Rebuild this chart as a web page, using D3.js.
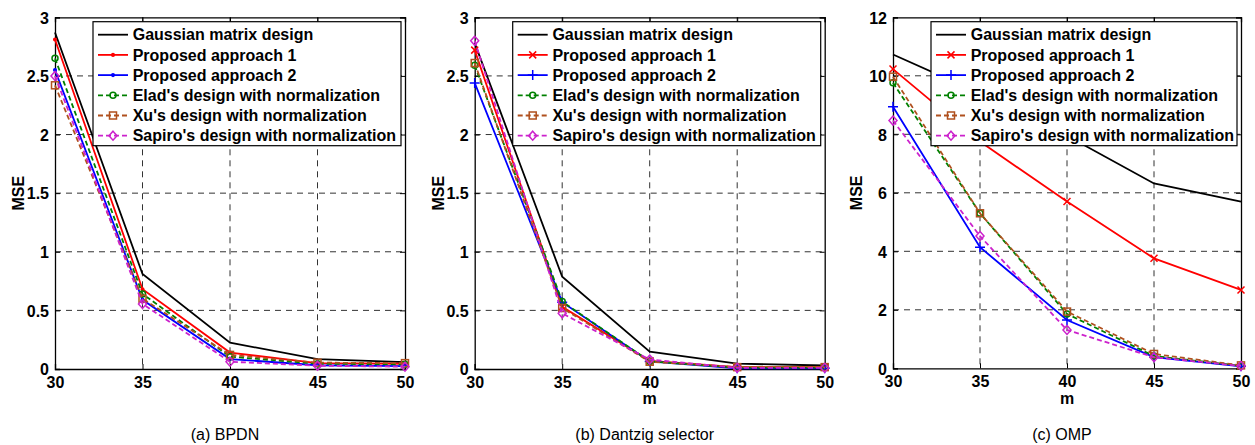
<!DOCTYPE html>
<html><head><meta charset="utf-8">
<script src="https://cdn.jsdelivr.net/npm/d3@7"></script>
<style>
body{margin:0;background:#fff;}
svg text{font-family:"Liberation Sans",Arial,Helvetica,sans-serif;}
</style></head>
<body><svg id="c" width="1255" height="445"></svg>
<script>
const mValues = [30, 35, 40, 45, 50];
const seriesNames = ["Gaussian matrix design","Proposed approach 1","Proposed approach 2",
  "Elad's design with normalization","Xu's design with normalization","Sapiro's design with normalization"];
const seriesColors = ["#000000","#ff0000","#0000ff","#008000","#b0501e","#cc22cc"];
const seriesDashed = [false,false,false,true,true,true];
const captions = ["(a) BPDN","(b) Dantzig selector","(c) OMP"];
const yTicksSmall = [0,0.5,1,1.5,2,2.5,3];
const yTicksOmp = [0,2,4,6,8,10,12];
// values per series: Gaussian, Proposed 1, Proposed 2, Elad, Xu, Sapiro
const bpdnValues = [
  [2.87, 0.81, 0.224, 0.085, 0.058],
  [2.81, 0.68, 0.14, 0.05, 0.045],
  [2.55, 0.59, 0.085, 0.032, 0.025],
  [2.65, 0.64, 0.105, 0.045, 0.04],
  [2.42, 0.60, 0.12, 0.054, 0.05],
  [2.50, 0.555, 0.062, 0.028, 0.02]
];
const dantzigValues = [
  [2.78, 0.787, 0.148, 0.045, 0.03],
  [2.72, 0.53, 0.07, 0.015, 0.015],
  [2.44, 0.57, 0.065, 0.006, 0.006],
  [2.59, 0.575, 0.065, 0.012, 0.012],
  [2.61, 0.52, 0.062, 0.016, 0.016],
  [2.80, 0.475, 0.08, 0.01, 0.01]
];
const ompValues = [
  [10.73, 9.4, 7.95, 6.32, 5.7],
  [10.23, 7.75, 5.7, 3.76, 2.68],
  [8.94, 4.14, 1.65, 0.38, 0.07],
  [9.76, 5.3, 1.86, 0.42, 0.08],
  [9.97, 5.3, 1.94, 0.49, 0.1],
  [8.47, 4.52, 1.31, 0.38, 0.08]
];

const svg = d3.select("#c");
const panels = [
  {x0:55, x1:405, y0:17.3, y1:369, yMax:3, ticks:yTicksSmall, data:bpdnValues, cap:captions[0], mk:["none","dot","dot","circle","square","diamond"]},
  {x0:474.7, x1:824.7, y0:17.3, y1:369, yMax:3, ticks:yTicksSmall, data:dantzigValues, cap:captions[1], mk:["none","x","plus","circle","square","diamond"]},
  {x0:893, x1:1241, y0:17.3, y1:368.3, yMax:12, ticks:yTicksOmp, data:ompValues, cap:captions[2], mk:["none","x","plus","circle","square","diamond"]}
];
const FS = "16px";

function drawMarker(g, type, cx, cy, color){
  if(type==="none") return;
  const s = g.append("g").attr("transform",`translate(${cx},${cy})`)
    .attr("stroke",color).attr("stroke-width",1.5).attr("fill","none");
  if(type==="dot") s.append("circle").attr("r",1.3).attr("fill",color);
  else if(type==="circle") s.append("circle").attr("r",3);
  else if(type==="square") s.append("rect").attr("x",-3.5).attr("y",-3.5).attr("width",7).attr("height",7);
  else if(type==="diamond") s.append("path").attr("d","M0,-4.5L4,0L0,4.5L-4,0Z");
  else if(type==="x") s.append("path").attr("d","M-3.5,-3.5L3.5,3.5M-3.5,3.5L3.5,-3.5");
  else if(type==="plus") s.append("path").attr("d","M-5,0L5,0M0,-5L0,5");
}

panels.forEach(p=>{
  const g = svg.append("g");
  const x = d3.scaleLinear().domain([30,50]).range([p.x0,p.x1]);
  const y = d3.scaleLinear().domain([0,p.yMax]).range([p.y1,p.y0]);
  // grid
  g.append("g").selectAll("line").data(p.ticks.filter(t=>t>0 && t<p.yMax)).join("line")
    .attr("x1",p.x0).attr("x2",p.x1).attr("y1",d=>y(d)).attr("y2",d=>y(d))
    .attr("stroke","#333").attr("stroke-dasharray","6,5").attr("stroke-width",1);
  g.append("g").selectAll("line").data(mValues.filter(t=>t>30 && t<50)).join("line")
    .attr("x1",d=>x(d)).attr("x2",d=>x(d)).attr("y1",p.y0).attr("y2",p.y1)
    .attr("stroke","#333").attr("stroke-dasharray","6,5").attr("stroke-width",1);
  // axes
  const ax = g.append("g").attr("transform",`translate(0,${p.y1})`)
    .call(d3.axisBottom(x).tickValues(mValues).tickSize(-5).tickPadding(7));
  const ay = g.append("g").attr("transform",`translate(${p.x0},0)`)
    .call(d3.axisLeft(y).tickValues(p.ticks).tickSize(-5).tickPadding(6).tickFormat(d=>String(d)));
  g.append("g").attr("transform",`translate(0,${p.y0})`)
    .call(d3.axisTop(x).tickValues(mValues).tickSize(-5).tickFormat(""));
  g.append("g").attr("transform",`translate(${p.x1},0)`)
    .call(d3.axisRight(y).tickValues(p.ticks).tickSize(-5).tickFormat(""));
  g.selectAll(".domain").attr("stroke","#000").attr("stroke-width",1.3);
  g.selectAll(".tick line").attr("stroke","#000");
  [ax,ay].forEach(a=>a.selectAll("text").attr("font-size",FS).attr("font-weight","bold").attr("fill","#000")
     .attr("font-family",'"Liberation Sans",Arial,sans-serif'));
  ax.selectAll("text").attr("dy","0.72em");
  ay.selectAll("text").attr("dy","0.36em");
  // series
  const line = d3.line().x((d,i)=>x(mValues[i])).y(d=>y(d));
  p.data.forEach((vals,si)=>{
    const col = seriesColors[si];
    g.append("path").datum(vals).attr("d",line).attr("fill","none").attr("stroke",col)
      .attr("stroke-width",1.8).attr("stroke-dasharray",seriesDashed[si]?"5,3":null);
    vals.forEach((v,i)=>drawMarker(g,p.mk[si],x(mValues[i]),y(v),col));
  });
  // legend
  const lx = p.x0+38, ly = 21.7, lw = p.x1-4-lx, lh = 124;
  const lg = g.append("g");
  lg.append("rect").attr("x",lx).attr("y",ly).attr("width",lw).attr("height",lh)
    .attr("fill","#fff").attr("stroke","#000").attr("stroke-width",1.2);
  seriesNames.forEach((n,si)=>{
    const yy = ly+13+si*20.2;
    lg.append("line").attr("x1",lx+5).attr("x2",lx+35).attr("y1",yy).attr("y2",yy)
      .attr("stroke",seriesColors[si]).attr("stroke-width",1.8).attr("stroke-dasharray",seriesDashed[si]?"5,3":null);
    drawMarker(lg,p.mk[si],lx+20,yy,seriesColors[si]);
    lg.append("text").attr("x",lx+39.7).attr("y",yy).attr("dy","0.36em")
      .attr("font-size",FS).attr("font-weight","bold").text(n);
  });
  // labels
  g.append("text").attr("x",(p.x0+p.x1)/2).attr("y",404).attr("text-anchor","middle")
    .attr("font-size",FS).attr("font-weight","bold").text("m");
  g.append("text").attr("transform",`translate(${p.x0-31},${(p.y0+p.y1)/2}) rotate(-90)`)
    .attr("text-anchor","middle").attr("font-size",FS).attr("font-weight","bold").text("MSE");
  g.append("text").attr("x",(p.x0+p.x1)/2-5).attr("y",440).attr("text-anchor","middle")
    .attr("font-size","16px").text(p.cap);
});
</script></body></html>
